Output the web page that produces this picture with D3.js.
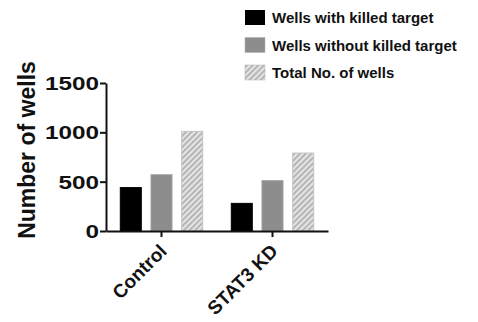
<!DOCTYPE html>
<html><head><meta charset="utf-8">
<script src="https://cdn.jsdelivr.net/npm/d3@7"></script>
<style>body{margin:0;background:#fff}svg{display:block}text{font-family:"Liberation Sans",Arial,sans-serif;font-weight:bold;fill:#111}</style>
</head><body>
<script>
const categories = ["Control", "STAT3 KD"];
const seriesNames = ["Wells with killed target", "Wells without killed target", "Total No. of wells"];
const withKilled = [440, 280];
const withoutKilled = [570, 510];
const totalWells = [1010, 790];
const yTicks = [0, 500, 1000, 1500];

const W = 478, H = 322;
const svg = d3.select("body").append("svg").attr("width", W).attr("height", H);

const defs = svg.append("defs");
const pat = defs.append("pattern").attr("id","hatch").attr("patternUnits","userSpaceOnUse")
  .attr("width",4).attr("height",4).attr("patternTransform","rotate(45)");
pat.append("rect").attr("width",4).attr("height",4).attr("fill","#e4e4e4");
pat.append("rect").attr("width",1.6).attr("height",4).attr("fill","#ababab");

const fills = ["#000000", "#8d8d8d", "url(#hatch)"];
const strokes = ["#000000", "#a0a0a0", "#c4c4c4"];

const x0 = d3.scaleBand().domain(categories).range([106, 328]);
const x1 = d3.scaleBand().domain(seriesNames).range([-46, 46]).paddingInner(0.283).paddingOuter(0.14);
const y = d3.scaleLinear().domain([0, 1500]).range([231, 83]);

const data = categories.map((c, i) => ({cat: c, vals: [withKilled[i], withoutKilled[i], totalWells[i]]}));

const g = svg.append("g");
data.forEach(d => {
  const cx = x0(d.cat) + x0.bandwidth() / 2;
  d.vals.forEach((v, j) => {
    g.append("rect")
      .attr("x", cx + x1(seriesNames[j]) + 0.5)
      .attr("y", y(v))
      .attr("width", x1.bandwidth() - 1)
      .attr("height", y(0) - y(v))
      .attr("fill", fills[j])
      .attr("stroke", strokes[j]).attr("stroke-width", 1);
  });
});

// Y axis
const yAxis = svg.append("g").attr("transform", "translate(106,0)")
  .call(d3.axisLeft(y).tickValues(yTicks).tickFormat(d3.format("d")).tickSize(6).tickSizeOuter(0).tickPadding(1));
yAxis.select(".domain").attr("stroke", "#111").attr("stroke-width", 2);
yAxis.selectAll(".tick line").attr("stroke", "#111").attr("stroke-width", 2);
yAxis.selectAll(".tick text").attr("font-size", 18).attr("fill", "#111")
  .attr("font-family", '"Liberation Sans", Arial, sans-serif').attr("font-weight", "bold")
  .attr("dy", "0.36em")
  .attr("transform", function(){ const xx = +d3.select(this).attr("x"); return `translate(${-xx*0.35},0) scale(1.35,1)`; });

// X axis
const xAxis = svg.append("g").attr("transform", "translate(0,231)")
  .call(d3.axisBottom(x0).tickSize(6).tickSizeOuter(0).tickFormat(""));
xAxis.select(".domain").attr("stroke", "#111").attr("stroke-width", 2);
xAxis.selectAll(".tick line").attr("stroke", "#111").attr("stroke-width", 2);
xAxis.selectAll(".tick").append("text")
  .attr("text-anchor", "end")
  .attr("font-size", 19)
  .attr("transform", "translate(-3,12) rotate(-45)")
  .attr("dy", "0.7em")
  .text(d => d);

// Y label
svg.append("text").attr("transform", "translate(35,150) rotate(-90)")
  .attr("text-anchor", "middle").attr("font-size", 23).text("Number of wells");

// Legend
const leg = svg.append("g");
seriesNames.forEach((s, i) => {
  const yy = 10 + i * 27.5;
  leg.append("rect").attr("x", 245).attr("y", yy).attr("width", 20).attr("height", 15)
    .attr("fill", fills[i]).attr("stroke", i === 0 ? "#000" : "#b0b0b0").attr("stroke-width", i === 0 ? 0 : 0.5);
  leg.append("text").attr("x", 272).attr("y", yy + 13).attr("font-size", 15).text(s);
});
</script>
</body></html>
